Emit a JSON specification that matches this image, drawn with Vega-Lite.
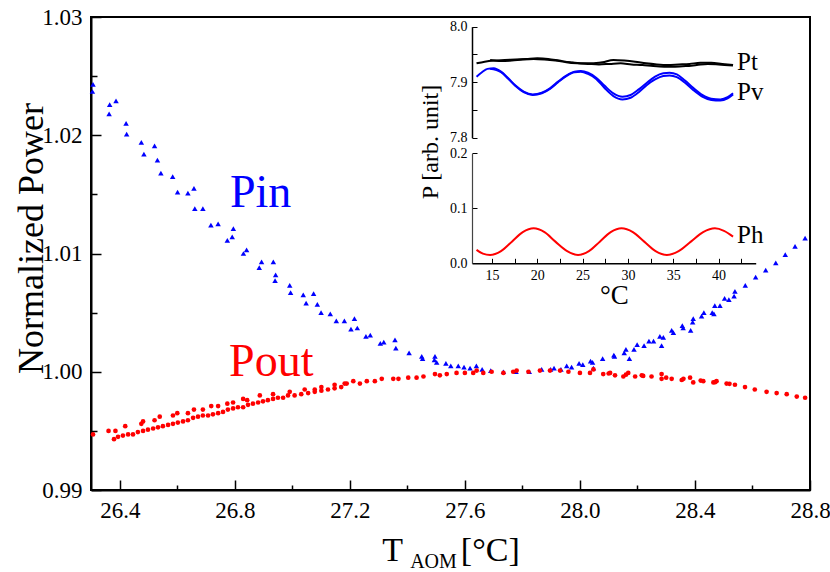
{
  "$schema": "https://vega.github.io/schema/vega-lite/v6.json",
  "width": 719,
  "height": 473,
  "autosize": {"type": "none"},
  "padding": {"left": 91, "top": 17, "right": 20, "bottom": 82},
  "background": "white",
  "title": {"text": "AOM", "orient": "bottom", "frame": "group", "anchor": "middle", "dx": -17, "offset": 1, "baseline": "alphabetic", "fontSize": 20, "font": "Liberation Serif, DejaVu Serif, serif", "fontWeight": "normal", "color": "black"},
  "config": {
    "font": "Liberation Serif, DejaVu Serif, serif",
    "view": {"stroke": "black", "strokeWidth": 2},
    "axis": {"grid": false, "labelFont": "Liberation Serif, DejaVu Serif, serif", "titleFont": "Liberation Serif, DejaVu Serif, serif", "labelColor": "black", "titleColor": "black", "tickColor": "black", "domainColor": "black", "titleFontWeight": "normal", "labelFlush": false, "labelOverlap": false},
    "text": {"font": "Liberation Serif, DejaVu Serif, serif"}
  },
  "datasets": {
    "pin": [
      {"t":26.307,"p":1.0243},{"t":26.305,"p":1.0237},{"t":26.365,"p":1.0226},{"t":26.387,"p":1.0229},{"t":26.363,"p":1.0218},{"t":26.422,"p":1.0210},{"t":26.424,"p":1.0201},{"t":26.475,"p":1.0194},{"t":26.484,"p":1.0184},{"t":26.521,"p":1.0191},{"t":26.531,"p":1.0179},{"t":26.543,"p":1.0168},{"t":26.584,"p":1.0165},{"t":26.601,"p":1.0152},{"t":26.637,"p":1.0151},{"t":26.658,"p":1.0155},{"t":26.661,"p":1.0138},{"t":26.689,"p":1.0138},{"t":26.717,"p":1.0124},{"t":26.742,"p":1.0125},{"t":26.774,"p":1.0111},{"t":26.791,"p":1.0114},{"t":26.795,"p":1.0121},{"t":26.830,"p":1.0100},{"t":26.841,"p":1.0103},{"t":26.885,"p":1.0088},{"t":26.893,"p":1.0093},{"t":26.934,"p":1.0093},{"t":26.942,"p":1.0082},{"t":26.940,"p":1.0077},{"t":26.991,"p":1.0073},{"t":26.994,"p":1.0067},{"t":27.038,"p":1.0065},{"t":27.048,"p":1.0058},{"t":27.074,"p":1.0066},{"t":27.087,"p":1.0057},{"t":27.100,"p":1.0050},{"t":27.132,"p":1.0049},{"t":27.153,"p":1.0043},{"t":27.181,"p":1.0043},{"t":27.216,"p":1.0045},{"t":27.204,"p":1.0036},{"t":27.226,"p":1.0037},{"t":27.256,"p":1.0030},{"t":27.271,"p":1.0031},{"t":27.306,"p":1.0024},{"t":27.318,"p":1.0025},{"t":27.357,"p":1.0027},{"t":27.360,"p":1.0020},{"t":27.406,"p":1.0016},{"t":27.450,"p":1.0013},{"t":27.453,"p":1.0011},{"t":27.496,"p":1.0013},{"t":27.494,"p":1.0010},{"t":27.502,"p":1.0008},{"t":27.534,"p":1.0007},{"t":27.551,"p":1.0005},{"t":27.577,"p":1.0005},{"t":27.597,"p":1.0004},{"t":27.618,"p":1.0003},{"t":27.640,"p":1.0005},{"t":27.660,"p":1.0002},{"t":27.690,"p":1.0001},{"t":27.734,"p":1.0000},{"t":27.778,"p":1.0000},{"t":27.824,"p":1.0000},{"t":27.867,"p":1.0002},{"t":27.898,"p":1.0002},{"t":27.910,"p":1.0003},{"t":27.934,"p":1.0002},{"t":27.954,"p":1.0005},{"t":27.971,"p":1.0004},{"t":27.997,"p":1.0007},{"t":28.010,"p":1.0006},{"t":28.037,"p":1.0009},{"t":28.044,"p":1.0008},{"t":28.047,"p":1.0003},{"t":28.079,"p":1.0011},{"t":28.118,"p":1.0014},{"t":28.120,"p":1.0013},{"t":28.154,"p":1.0016},{"t":28.160,"p":1.0019},{"t":28.172,"p":1.0011},{"t":28.188,"p":1.0019},{"t":28.199,"p":1.0023},{"t":28.223,"p":1.0022},{"t":28.240,"p":1.0026},{"t":28.256,"p":1.0026},{"t":28.278,"p":1.0030},{"t":28.290,"p":1.0029},{"t":28.284,"p":1.0022},{"t":28.319,"p":1.0035},{"t":28.325,"p":1.0033},{"t":28.356,"p":1.0039},{"t":28.359,"p":1.0037},{"t":28.385,"p":1.0035},{"t":28.394,"p":1.0045},{"t":28.392,"p":1.0042},{"t":28.423,"p":1.0047},{"t":28.431,"p":1.0050},{"t":28.460,"p":1.0050},{"t":28.466,"p":1.0049},{"t":28.469,"p":1.0056},{"t":28.487,"p":1.0056},{"t":28.503,"p":1.0062},{"t":28.518,"p":1.0061},{"t":28.536,"p":1.0064},{"t":28.539,"p":1.0068},{"t":28.575,"p":1.0073},{"t":28.611,"p":1.0080},{"t":28.646,"p":1.0086},{"t":28.681,"p":1.0092},{"t":28.714,"p":1.0099},{"t":28.748,"p":1.0106},{"t":28.783,"p":1.0113}
    ],
    "pout": [
      {"t":26.307,"p":0.9947},{"t":26.361,"p":0.9950},{"t":26.385,"p":0.9950},{"t":26.419,"p":0.9954},{"t":26.475,"p":0.9956},{"t":26.481,"p":0.9958},{"t":26.521,"p":0.9959},{"t":26.539,"p":0.9962},{"t":26.585,"p":0.9963},{"t":26.600,"p":0.9965},{"t":26.637,"p":0.9965},{"t":26.658,"p":0.9968},{"t":26.689,"p":0.9968},{"t":26.718,"p":0.9971},{"t":26.742,"p":0.9971},{"t":26.774,"p":0.9973},{"t":26.794,"p":0.9974},{"t":26.829,"p":0.9977},{"t":26.843,"p":0.9976},{"t":26.887,"p":0.9980},{"t":26.933,"p":0.9981},{"t":26.991,"p":0.9983},{"t":27.043,"p":0.9985},{"t":27.078,"p":0.9985},{"t":27.101,"p":0.9987},{"t":27.147,"p":0.9989},{"t":27.182,"p":0.9990},
      {"t":26.380,"p":0.9943},{"t":26.394,"p":0.9945},{"t":26.411,"p":0.9946},{"t":26.429,"p":0.9947},{"t":26.446,"p":0.9947},{"t":26.463,"p":0.9949},{"t":26.481,"p":0.9950},{"t":26.498,"p":0.9951},{"t":26.516,"p":0.9952},{"t":26.533,"p":0.9953},{"t":26.550,"p":0.9954},{"t":26.568,"p":0.9955},{"t":26.585,"p":0.9956},{"t":26.602,"p":0.9957},{"t":26.620,"p":0.9958},{"t":26.637,"p":0.9959},{"t":26.655,"p":0.9961},{"t":26.672,"p":0.9962},{"t":26.689,"p":0.9963},{"t":26.707,"p":0.9963},{"t":26.724,"p":0.9964},{"t":26.742,"p":0.9965},{"t":26.759,"p":0.9966},{"t":26.776,"p":0.9968},{"t":26.794,"p":0.9969},{"t":26.811,"p":0.9970},{"t":26.829,"p":0.9970},{"t":26.846,"p":0.9972},{"t":26.863,"p":0.9973},{"t":26.881,"p":0.9974},{"t":26.898,"p":0.9975},{"t":26.915,"p":0.9976},{"t":26.933,"p":0.9977},{"t":26.950,"p":0.9978},{"t":26.968,"p":0.9978},{"t":26.985,"p":0.9980},{"t":27.008,"p":0.9980},{"t":27.031,"p":0.9981},{"t":27.055,"p":0.9982},{"t":27.078,"p":0.9983},{"t":27.101,"p":0.9984},{"t":27.124,"p":0.9985},{"t":27.147,"p":0.9986},{"t":27.170,"p":0.9987},
      {"t":27.189,"p":0.9990},{"t":27.212,"p":0.9992},{"t":27.235,"p":0.9990},{"t":27.259,"p":0.9992},{"t":27.287,"p":0.9992},{"t":27.311,"p":0.9994},{"t":27.351,"p":0.9994},{"t":27.369,"p":0.9994},{"t":27.403,"p":0.9995},{"t":27.432,"p":0.9995},{"t":27.456,"p":0.9996},{"t":27.496,"p":0.9998},{"t":27.513,"p":0.9997},{"t":27.537,"p":0.9998},{"t":27.571,"p":0.9999},{"t":27.600,"p":0.9999},{"t":27.629,"p":0.9999},{"t":27.641,"p":1.0001},{"t":27.664,"p":0.9999},{"t":27.693,"p":1.0000},{"t":27.734,"p":0.9999},{"t":27.768,"p":1.0000},{"t":27.780,"p":1.0001},{"t":27.821,"p":1.0000},{"t":27.861,"p":1.0001},{"t":27.896,"p":1.0001},{"t":27.931,"p":1.0001},{"t":27.960,"p":1.0000},{"t":28.000,"p":0.9999},{"t":28.035,"p":0.9999},{"t":28.047,"p":1.0002},{"t":28.081,"p":0.9998},{"t":28.105,"p":0.9999},{"t":28.122,"p":0.9997},{"t":28.151,"p":0.9996},{"t":28.168,"p":0.9999},{"t":28.192,"p":0.9996},{"t":28.215,"p":0.9997},{"t":28.249,"p":0.9996},{"t":28.284,"p":0.9998},{"t":28.284,"p":0.9994},{"t":28.319,"p":0.9994},{"t":28.354,"p":0.9993},{"t":28.383,"p":0.9995},{"t":28.394,"p":0.9991},{"t":28.429,"p":0.9992},{"t":28.464,"p":0.9991},{"t":28.475,"p":0.9992},{"t":28.510,"p":0.9990},{"t":28.539,"p":0.9989},{"t":28.574,"p":0.9987},{"t":28.608,"p":0.9985},{"t":28.649,"p":0.9983},{"t":28.684,"p":0.9982},{"t":28.719,"p":0.9981},{"t":28.754,"p":0.9979},{"t":28.783,"p":0.9978},
      {"t":28.100,"p":0.99985},{"t":28.160,"p":0.99975},{"t":28.220,"p":0.99965},{"t":28.300,"p":0.9995},{"t":28.360,"p":0.9994},{"t":28.420,"p":0.99925},{"t":28.470,"p":0.99912},{"t":28.520,"p":0.99898}
    ],
    "pinLabel": [{"t": 26.783, "p": 1.0139, "label": "Pin"}],
    "poutLabel": [{"t": 26.78, "p": 0.99964, "label": "Pout"}],
    "upper": [
      {"curve":"Pt","branch":"a","t":13.3,"p":7.934},{"curve":"Pt","branch":"a","t":14.2,"p":7.937},{"curve":"Pt","branch":"a","t":15.2,"p":7.939},{"curve":"Pt","branch":"a","t":16.4,"p":7.940},{"curve":"Pt","branch":"a","t":17.6,"p":7.941},{"curve":"Pt","branch":"a","t":18.8,"p":7.942},{"curve":"Pt","branch":"a","t":20.0,"p":7.943},{"curve":"Pt","branch":"a","t":21.2,"p":7.942},{"curve":"Pt","branch":"a","t":22.4,"p":7.939},{"curve":"Pt","branch":"a","t":23.6,"p":7.936},{"curve":"Pt","branch":"a","t":24.8,"p":7.934},{"curve":"Pt","branch":"a","t":26.0,"p":7.934},{"curve":"Pt","branch":"a","t":27.2,"p":7.936},{"curve":"Pt","branch":"a","t":28.4,"p":7.940},{"curve":"Pt","branch":"a","t":29.6,"p":7.939},{"curve":"Pt","branch":"a","t":30.8,"p":7.937},{"curve":"Pt","branch":"a","t":32.0,"p":7.934},{"curve":"Pt","branch":"a","t":33.2,"p":7.932},{"curve":"Pt","branch":"a","t":34.4,"p":7.931},{"curve":"Pt","branch":"a","t":35.6,"p":7.932},{"curve":"Pt","branch":"a","t":36.8,"p":7.933},{"curve":"Pt","branch":"a","t":38.0,"p":7.935},{"curve":"Pt","branch":"a","t":39.2,"p":7.935},{"curve":"Pt","branch":"a","t":40.4,"p":7.933},{"curve":"Pt","branch":"a","t":41.6,"p":7.931},
      {"curve":"Pt","branch":"b","t":14.8,"p":7.940},{"curve":"Pt","branch":"b","t":16.0,"p":7.938},{"curve":"Pt","branch":"b","t":17.2,"p":7.939},{"curve":"Pt","branch":"b","t":18.4,"p":7.941},{"curve":"Pt","branch":"b","t":19.6,"p":7.942},{"curve":"Pt","branch":"b","t":20.8,"p":7.941},{"curve":"Pt","branch":"b","t":22.0,"p":7.939},{"curve":"Pt","branch":"b","t":23.2,"p":7.936},{"curve":"Pt","branch":"b","t":24.4,"p":7.934},{"curve":"Pt","branch":"b","t":25.6,"p":7.933},{"curve":"Pt","branch":"b","t":26.8,"p":7.932},{"curve":"Pt","branch":"b","t":28.0,"p":7.933},{"curve":"Pt","branch":"b","t":29.2,"p":7.934},{"curve":"Pt","branch":"b","t":30.4,"p":7.932},{"curve":"Pt","branch":"b","t":31.6,"p":7.931},{"curve":"Pt","branch":"b","t":32.8,"p":7.929},{"curve":"Pt","branch":"b","t":34.0,"p":7.928},{"curve":"Pt","branch":"b","t":35.2,"p":7.928},{"curve":"Pt","branch":"b","t":36.4,"p":7.929},{"curve":"Pt","branch":"b","t":37.6,"p":7.931},{"curve":"Pt","branch":"b","t":38.8,"p":7.933},{"curve":"Pt","branch":"b","t":40.0,"p":7.932},{"curve":"Pt","branch":"b","t":41.6,"p":7.930},
      {"curve":"Pv","branch":"a","t":13.3,"p":7.910},{"curve":"Pv","branch":"a","t":13.9,"p":7.918},{"curve":"Pv","branch":"a","t":14.5,"p":7.924},{"curve":"Pv","branch":"a","t":15.2,"p":7.925},{"curve":"Pv","branch":"a","t":16.0,"p":7.919},{"curve":"Pv","branch":"a","t":16.8,"p":7.907},{"curve":"Pv","branch":"a","t":17.6,"p":7.894},{"curve":"Pv","branch":"a","t":18.5,"p":7.883},{"curve":"Pv","branch":"a","t":19.5,"p":7.878},{"curve":"Pv","branch":"a","t":20.5,"p":7.881},{"curve":"Pv","branch":"a","t":21.4,"p":7.889},{"curve":"Pv","branch":"a","t":22.3,"p":7.901},{"curve":"Pv","branch":"a","t":23.2,"p":7.912},{"curve":"Pv","branch":"a","t":24.1,"p":7.919},{"curve":"Pv","branch":"a","t":24.8,"p":7.920},{"curve":"Pv","branch":"a","t":25.6,"p":7.917},{"curve":"Pv","branch":"a","t":26.5,"p":7.908},{"curve":"Pv","branch":"a","t":27.4,"p":7.894},{"curve":"Pv","branch":"a","t":28.4,"p":7.880},{"curve":"Pv","branch":"a","t":29.4,"p":7.874},{"curve":"Pv","branch":"a","t":30.3,"p":7.877},{"curve":"Pv","branch":"a","t":31.2,"p":7.887},{"curve":"Pv","branch":"a","t":32.1,"p":7.899},{"curve":"Pv","branch":"a","t":33.0,"p":7.910},{"curve":"Pv","branch":"a","t":33.9,"p":7.916},{"curve":"Pv","branch":"a","t":34.6,"p":7.917},{"curve":"Pv","branch":"a","t":35.4,"p":7.914},{"curve":"Pv","branch":"a","t":36.3,"p":7.903},{"curve":"Pv","branch":"a","t":37.2,"p":7.890},{"curve":"Pv","branch":"a","t":38.2,"p":7.877},{"curve":"Pv","branch":"a","t":39.2,"p":7.870},{"curve":"Pv","branch":"a","t":40.2,"p":7.869},{"curve":"Pv","branch":"a","t":41.0,"p":7.873},{"curve":"Pv","branch":"a","t":41.6,"p":7.880},
      {"curve":"Pv","branch":"b","t":14.8,"p":7.924},{"curve":"Pv","branch":"b","t":16.0,"p":7.918},{"curve":"Pv","branch":"b","t":16.8,"p":7.906},{"curve":"Pv","branch":"b","t":17.6,"p":7.893},{"curve":"Pv","branch":"b","t":18.5,"p":7.882},{"curve":"Pv","branch":"b","t":19.5,"p":7.877},{"curve":"Pv","branch":"b","t":20.5,"p":7.880},{"curve":"Pv","branch":"b","t":21.4,"p":7.888},{"curve":"Pv","branch":"b","t":22.3,"p":7.900},{"curve":"Pv","branch":"b","t":23.2,"p":7.911},{"curve":"Pv","branch":"b","t":24.1,"p":7.918},{"curve":"Pv","branch":"b","t":24.8,"p":7.919},{"curve":"Pv","branch":"b","t":25.6,"p":7.915},{"curve":"Pv","branch":"b","t":26.5,"p":7.906},{"curve":"Pv","branch":"b","t":27.4,"p":7.890},{"curve":"Pv","branch":"b","t":28.4,"p":7.875},{"curve":"Pv","branch":"b","t":29.4,"p":7.869},{"curve":"Pv","branch":"b","t":30.3,"p":7.872},{"curve":"Pv","branch":"b","t":31.2,"p":7.882},{"curve":"Pv","branch":"b","t":32.1,"p":7.895},{"curve":"Pv","branch":"b","t":33.0,"p":7.905},{"curve":"Pv","branch":"b","t":33.9,"p":7.911},{"curve":"Pv","branch":"b","t":34.6,"p":7.912},{"curve":"Pv","branch":"b","t":35.4,"p":7.909},{"curve":"Pv","branch":"b","t":36.3,"p":7.899},{"curve":"Pv","branch":"b","t":37.2,"p":7.886},{"curve":"Pv","branch":"b","t":38.2,"p":7.874},{"curve":"Pv","branch":"b","t":39.2,"p":7.868},{"curve":"Pv","branch":"b","t":40.2,"p":7.867},{"curve":"Pv","branch":"b","t":41.0,"p":7.871},{"curve":"Pv","branch":"b","t":41.6,"p":7.878}
    ],
    "upperLabels": [{"t": 42.05, "p": 7.922, "label": "Pt"}, {"t": 42.05, "p": 7.868, "label": "Pv"}],
    "ph": [
      {"t":13.3,"p":0.0245},{"t":14.0,"p":0.0175},{"t":14.8,"p":0.0151},{"t":16.0,"p":0.0222},{"t":17.2,"p":0.0394},{"t":18.4,"p":0.0566},{"t":19.6,"p":0.0636},{"t":20.8,"p":0.0566},{"t":22.0,"p":0.0394},{"t":23.3,"p":0.0222},{"t":24.5,"p":0.0151},{"t":25.7,"p":0.0222},{"t":26.9,"p":0.0394},{"t":28.1,"p":0.0566},{"t":29.3,"p":0.0636},{"t":30.55,"p":0.0566},{"t":31.8,"p":0.0394},{"t":33.05,"p":0.0222},{"t":34.3,"p":0.0151},{"t":35.6,"p":0.0222},{"t":36.95,"p":0.0394},{"t":38.3,"p":0.0566},{"t":39.6,"p":0.0636},{"t":40.6,"p":0.0590},{"t":41.6,"p":0.0484}
    ],
    "phLabel": [{"t": 42.05, "p": 0.0364, "label": "Ph"}]
  },
  "resolve": {"scale": {"x": "independent", "y": "independent"}},
  "layer": [
    {
      "encoding": {
        "x": {"field": "t", "type": "quantitative", "scale": {"domain": [26.3, 28.8], "nice": false, "zero": false},
          "axis": {"orient": "bottom", "values": [26.4, 26.8, 27.2, 27.6, 28.0, 28.4, 28.8], "format": ".1f", "tickSize": -10, "tickWidth": 1.5, "labelPadding": 19, "labelFontSize": 23, "domainWidth": 2, "title": "T\u2003\u2002\u2009[°C]", "titleFontSize": 34, "titleBaseline": "alphabetic", "titleY": 70}},
        "y": {"field": "p", "type": "quantitative", "scale": {"domain": [0.99, 1.03], "nice": false, "zero": false},
          "axis": {"orient": "left", "values": [0.99, 1.0, 1.01, 1.02, 1.03], "format": ".2f", "tickSize": -10, "tickWidth": 1.5, "labelPadding": 19, "labelFontSize": 23, "domainWidth": 2, "title": "Normalized Power", "titleFontSize": 36, "titleBaseline": "alphabetic", "titleAngle": -90, "titleAlign": "center", "titleX": -49, "titleY": 221}}
      },
      "layer": [
        {"data": {"name": "pin"}, "mark": {"type": "point", "shape": "triangle-up", "filled": true, "color": "#0000ff", "size": 30, "opacity": 1}},
        {"data": {"name": "pinLabel"}, "mark": {"type": "text", "color": "#0000ff", "fontSize": 46, "align": "left", "baseline": "alphabetic"}, "encoding": {"text": {"field": "label"}}}
      ]
    },
    {
      "encoding": {
        "x": {"field": "t", "type": "quantitative", "scale": {"domain": [26.3, 28.8], "nice": false, "zero": false},
          "axis": {"orient": "bottom", "values": [26.6, 27.0, 27.4, 27.8, 28.2, 28.6], "labels": false, "domain": false, "tickSize": -5, "tickWidth": 1.5, "title": null}},
        "y": {"field": "p", "type": "quantitative", "scale": {"domain": [0.99, 1.03], "nice": false, "zero": false},
          "axis": {"orient": "left", "values": [0.995, 1.005, 1.015, 1.025], "labels": false, "domain": false, "tickSize": -6, "tickWidth": 1.5, "title": null}}
      },
      "layer": [
        {"data": {"name": "pout"}, "mark": {"type": "point", "shape": "circle", "filled": true, "color": "#ff0000", "size": 22, "opacity": 1}},
        {"data": {"name": "poutLabel"}, "mark": {"type": "text", "color": "#ff0000", "fontSize": 46, "align": "left", "baseline": "alphabetic"}, "encoding": {"text": {"field": "label"}}}
      ]
    },
    {
      "encoding": {
        "x": {"field": "t", "type": "quantitative", "scale": {"domain": [12.8, 44.1], "range": [381, 664.7], "nice": false, "zero": false}, "axis": null},
        "y": {"field": "p", "type": "quantitative", "scale": {"domain": [7.8, 8.0], "range": [120.7, 9.7], "nice": false, "zero": false},
          "axis": {"orient": "left", "offset": -381, "values": [7.8, 7.85, 7.9, 7.95, 8.0], "format": ".1f", "labelExpr": "abs(round(datum.value*100) % 10) == 0 ? datum.label : ''", "tickSize": -5, "labelPadding": 10, "labelFontSize": 14, "domainWidth": 1.5, "title": null}}
      },
      "layer": [
        {"data": {"name": "upper"}, "mark": {"type": "line", "strokeWidth": 2, "interpolate": "monotone"},
          "encoding": {"color": {"field": "curve", "type": "nominal", "scale": {"domain": ["Pt", "Pv"], "range": ["#000000", "#0000ff"]}, "legend": null}, "detail": {"field": "branch"}}},
        {"data": {"name": "upperLabels"}, "mark": {"type": "text", "color": "black", "fontSize": 25, "align": "left", "baseline": "alphabetic"}, "encoding": {"text": {"field": "label"}}}
      ]
    },
    {
      "encoding": {
        "x": {"field": "t", "type": "quantitative", "scale": {"domain": [12.8, 44.1], "range": [381, 664.7], "nice": false, "zero": false},
          "axis": {"orient": "bottom", "offset": -226.7, "values": [15, 17.5, 20, 22.5, 25, 27.5, 30, 32.5, 35, 37.5, 40, 42.5], "format": "d", "labelExpr": "datum.value % 5 == 0 ? datum.label : ''", "tickSize": -5, "labelPadding": 10, "labelFontSize": 14, "domainWidth": 1.5, "title": "°C", "titleFontSize": 27, "titleBaseline": "alphabetic", "titleY": 40}},
        "y": {"field": "p", "type": "quantitative", "scale": {"domain": [0, 0.2], "range": [246.3, 136.3], "nice": false, "zero": false},
          "axis": {"orient": "left", "offset": -381, "values": [0, 0.1, 0.2], "format": ".1f", "tickSize": -5, "labelPadding": 10, "labelFontSize": 14, "domainWidth": 1.2, "domainColor": "#444444", "title": "P [arb. unit]", "titleFontSize": 24, "titleAngle": -90, "titleAlign": "center", "titleBaseline": "alphabetic", "titleX": -35, "titleY": 124.5}}
      },
      "layer": [
        {"data": {"name": "ph"}, "mark": {"type": "line", "strokeWidth": 2, "color": "#ff0000", "interpolate": "monotone"}},
        {"data": {"name": "phLabel"}, "mark": {"type": "text", "color": "black", "fontSize": 25, "align": "left", "baseline": "alphabetic"}, "encoding": {"text": {"field": "label"}}}
      ]
    }
  ]
}
